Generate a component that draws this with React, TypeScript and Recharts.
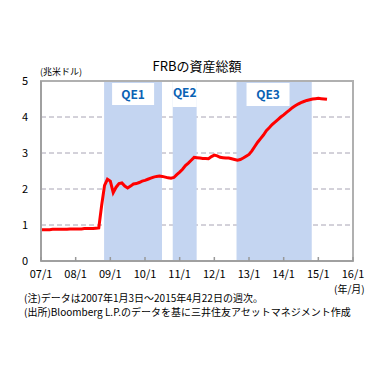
import { LineChart, Line, XAxis, YAxis, CartesianGrid, ReferenceArea } from 'recharts'

const FONT = '"Noto Sans CJK JP", "Noto Sans", sans-serif'

// FRB total assets, trillion USD, roughly month-start readings
const y2007 = [0.87, 0.87, 0.87, 0.87, 0.88, 0.88, 0.88, 0.88, 0.88, 0.88, 0.89, 0.89]
const y2008 = [0.89, 0.89, 0.89, 0.9, 0.9, 0.9, 0.9, 0.91, 0.92, 1.55, 2.1, 2.27]
const y2009 = [2.22, 1.9, 2.05, 2.15, 2.17, 2.08, 2.03, 2.08, 2.14, 2.15, 2.18, 2.22]
const y2010 = [2.24, 2.27, 2.3, 2.33, 2.35, 2.36, 2.35, 2.33, 2.31, 2.3, 2.32, 2.4]
const y2011 = [2.47, 2.55, 2.65, 2.72, 2.8, 2.88, 2.87, 2.86, 2.85, 2.85, 2.84, 2.9]
const y2012 = [2.94, 2.92, 2.88, 2.87, 2.86, 2.86, 2.84, 2.82, 2.8, 2.82, 2.86, 2.91]
const y2013 = [2.96, 3.06, 3.18, 3.3, 3.4, 3.5, 3.62, 3.7, 3.79, 3.86, 3.93, 4.0]
const y2014 = [4.06, 4.13, 4.19, 4.26, 4.31, 4.36, 4.4, 4.43, 4.46, 4.48, 4.5, 4.51]
const y2015 = [4.52, 4.51, 4.5, 4.49]

const years = [2007, 2008, 2009, 2010, 2011, 2012, 2013, 2014, 2015]
const yearValues = [y2007, y2008, y2009, y2010, y2011, y2012, y2013, y2014, y2015]

const xTicks = [2007, 2008, 2009, 2010, 2011, 2012, 2013, 2014, 2015, 2016]
const xTickLabels = ['07/1', '08/1', '09/1', '10/1', '11/1', '12/1', '13/1', '14/1', '15/1', '16/1']
const yTicks = [0, 1, 2, 3, 4, 5]

// QE periods (decimal years)
const qeNames = ['QE1', 'QE2', 'QE3']
const qeStart = [2008.82, 2010.8, 2012.64]
const qeEnd = [2010.49, 2011.49, 2014.81]

const data = years.flatMap((yr, i) =>
  yearValues[i].map((v, m) => ({ t: yr + m / 12, assets: v }))
)

function QeLabel(props: any) {
  const { viewBox, text, dx, w, h } = props
  if (!viewBox) return null
  const x = viewBox.x + dx
  const y = viewBox.y + (h > 24 ? 0 : 2)
  return (
    <g>
      <rect x={x} y={y} width={w} height={h} fill="#fff" />
      <text x={x + w / 2} y={y + 16} textAnchor="middle" fill="#0a62b4" fontSize={12} fontWeight="bold" fontFamily={FONT}>
        {text}
      </text>
    </g>
  )
}

function XTick(props: any) {
  const { x, y, payload } = props
  const i = xTicks.indexOf(payload.value)
  return (
    <g>
      <line x1={x} y1={y} x2={x} y2={y - 4} stroke="#999" strokeWidth={1.5} />
      <text x={x} y={y + 17} textAnchor="middle" fontSize={11} fill="#000" fontFamily={FONT}>
        {xTickLabels[i]}
      </text>
    </g>
  )
}

export default function App() {
  const labelBoxes = [
    { dx: 8, w: 42, h: 22 },
    { dx: 0, w: 24, h: 26 },
    { dx: 10, w: 43, h: 23 },
  ]
  return (
    <div style={{ position: 'absolute', left: 0, top: 0, width: 390, height: 374, background: '#fff', fontFamily: FONT }}>
      <div style={{ position: 'absolute', left: 0, width: 390, top: 56, textAlign: 'center', fontSize: 13, paddingLeft: 2 }}>
        FRBの資産総額
      </div>
      <div style={{ position: 'absolute', left: 40, top: 65, fontSize: 9 }}>(兆米ドル)</div>
      <LineChart width={390} height={374} data={data} margin={{ top: 81, right: 37, bottom: 93, left: 0 }}>
        {qeNames.map((q, i) => (
          <ReferenceArea
            key={q}
            x1={qeStart[i]}
            x2={qeEnd[i]}
            y1={0}
            y2={5}
            fill="#c4d5f1"
            fillOpacity={1}
            stroke="none"
            label={<QeLabel text={q} {...labelBoxes[i]} />}
          />
        ))}
        <CartesianGrid vertical={false} stroke="#a8a4b4" strokeDasharray="5 3" />
        <XAxis
          dataKey="t"
          type="number"
          domain={[2007, 2016]}
          ticks={xTicks}
          interval={0}
          height={20}
          tickSize={0}
          tickMargin={0}
          axisLine={{ stroke: '#a0a0a0', strokeWidth: 2 }}
          tickLine={false}
          tick={<XTick />}
        />
        <YAxis
          domain={[0, 5]}
          ticks={yTicks}
          width={41}
          tickSize={0}
          tickMargin={13}
          axisLine={{ stroke: '#a0a0a0', strokeWidth: 2 }}
          tickLine={false}
          tick={{ fontSize: 11, fill: '#000', fontFamily: FONT }}
        />
        <ReferenceArea x1={2007} x2={2016} y1={0} y2={5} fill="none" stroke="#b0b0b0" strokeWidth={2} />
        <Line
          type="linear"
          dataKey="assets"
          stroke="#ff0000"
          strokeWidth={3}
          dot={false}
          isAnimationActive={false}
        />
      </LineChart>
      <div style={{ position: 'absolute', left: 334, top: 283, fontSize: 10, lineHeight: '11px' }}>(年/月)</div>
      <div style={{ position: 'absolute', left: 24, top: 292, fontSize: 10, lineHeight: '11px', whiteSpace: 'nowrap' }}>
        (注)データは2007年1月3日～2015年4月22日の週次。
      </div>
      <div style={{ position: 'absolute', left: 24, top: 306, fontSize: 10, lineHeight: '11px', whiteSpace: 'nowrap' }}>
        (出所)Bloomberg L.P.のデータを基に三井住友アセットマネジメント作成
      </div>
    </div>
  )
}
